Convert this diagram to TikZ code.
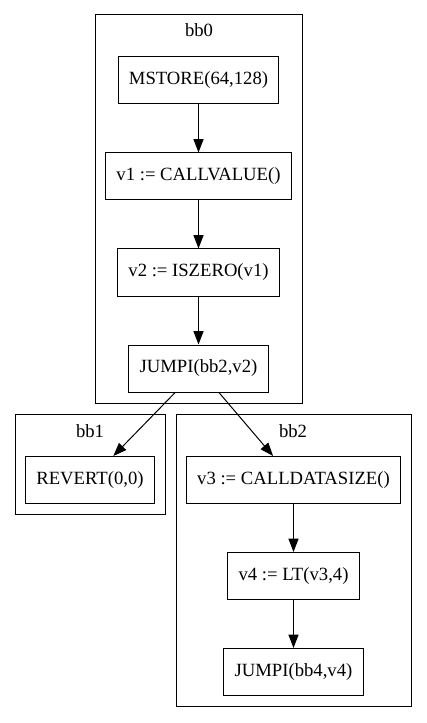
\documentclass[tikz,border=0pt]{standalone}
\usepackage{fontspec}
\setmainfont{Liberation Serif}
\usetikzlibrary{arrows.meta,positioning,calc}

\begin{document}
\begin{tikzpicture}[x=0.75pt,y=-0.75pt,
    instr/.style={draw, line width=0.75pt, inner xsep=8pt, minimum height=35.25pt, font=\fontsize{14}{16}\selectfont},
    blocklabel/.style={font=\fontsize{14}{16}\selectfont},
    cluster/.style={draw, line width=0.75pt},
    flow/.style={-{Triangle[length=10pt,width=7.5pt]}, line width=0.75pt}]
    \useasboundingbox (0,0) rectangle (427,723);

    % Basic blocks
    \draw[cluster] (95,15) rectangle (302,403);
    \draw[cluster] (15,414) rectangle (165,514);
    \draw[cluster] (176,414) rectangle (411,706);
    \node[blocklabel] (lbl0) at (199,30) {bb0};
    \node[blocklabel] (lbl1) at (90,431) {bb1};
    \node[blocklabel] (lbl2) at (293,431) {bb2};

    % Instructions of bb0
    \node[instr] (mstore) at (198.5,80.5) {MSTORE(64,128)};
    \node[instr] (v1) at (198.5,176.5) {v1 := CALLVALUE()};
    \node[instr] (v2) at (198.5,272.5) {v2 := ISZERO(v1)};
    \node[instr] (jmp0) at (198.5,368.5) {JUMPI(bb2,v2)};

    % Instructions of bb1
    \node[instr] (rev) at (90,480) {REVERT(0,0)};

    % Instructions of bb2
    \node[instr] (v3) at (293.5,480) {v3 := CALLDATASIZE()};
    \node[instr] (v4) at (293.5,576) {v4 := LT(v3,4)};
    \node[instr] (jmp2) at (293.5,672) {JUMPI(bb4,v4)};

    % Control flow
    \draw[flow] (mstore) -- (v1);
    \draw[flow] (v1) -- (v2);
    \draw[flow] (v2) -- (jmp0);
    \draw[flow] (jmp0) -- (rev);
    \draw[flow] (jmp0) -- (v3);
    \draw[flow] (v3) -- (v4);
    \draw[flow] (v4) -- (jmp2);
\end{tikzpicture}
\end{document}
